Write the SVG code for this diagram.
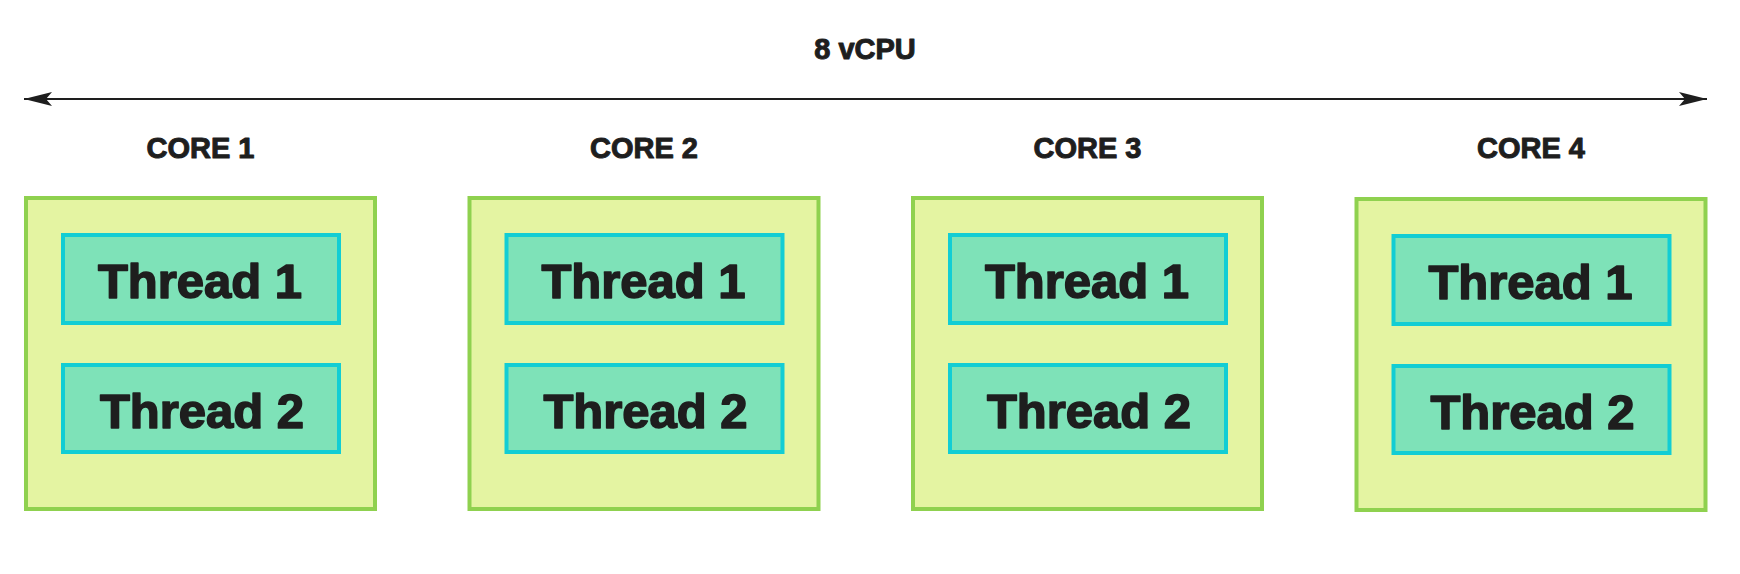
<svg xmlns="http://www.w3.org/2000/svg" width="1740" height="574" viewBox="0 0 1740 574">
<style>
.core{fill:#e4f4a2;stroke:#8fd14f;stroke-width:4}
.thr{fill:#7ee2b8;stroke:#12cdd4;stroke-width:4}
.lbl{font-family:"Liberation Sans",Arial,sans-serif;font-weight:bold;fill:#1e1e1e;text-anchor:middle;stroke:#1e1e1e;stroke-linejoin:round}
.cl{font-size:29px;stroke-width:1}
.tl{font-size:49px;stroke-width:1.6}
</style>
<defs>
<marker id="ah" viewBox="0 0 28 14" refX="28" refY="7" markerWidth="28" markerHeight="14" markerUnits="userSpaceOnUse" orient="auto-start-reverse">
<path d="M0,0 L28,7 L0,14 L6,7 Z" fill="#1e1e1e"/>
</marker>
</defs>
<rect width="1740" height="574" fill="#ffffff"/>
<text class="lbl cl" x="865" y="59">8 vCPU</text>
<g id="connectors">
<line x1="24" y1="99" x2="1707" y2="99" stroke="#1e1e1e" stroke-width="2" marker-start="url(#ah)" marker-end="url(#ah)"/>
</g>
<g id="core1">
<text class="lbl cl" x="200.5" y="158">CORE 1</text>
<rect class="core" x="26" y="198" width="349" height="311"/>
<rect class="thr" x="63" y="235" width="276" height="88"/>
<text class="lbl tl" x="200" y="298">Thread 1</text>
<rect class="thr" x="63" y="365" width="276" height="87"/>
<text class="lbl tl" x="202" y="428">Thread 2</text>
</g>
<g id="core2">
<text class="lbl cl" x="644" y="158">CORE 2</text>
<rect class="core" x="469.5" y="198" width="349" height="311"/>
<rect class="thr" x="506.5" y="235" width="276" height="88"/>
<text class="lbl tl" x="643.5" y="298">Thread 1</text>
<rect class="thr" x="506.5" y="365" width="276" height="87"/>
<text class="lbl tl" x="645.5" y="428">Thread 2</text>
</g>
<g id="core3">
<text class="lbl cl" x="1087.5" y="158">CORE 3</text>
<rect class="core" x="913" y="198" width="349" height="311"/>
<rect class="thr" x="950" y="235" width="276" height="88"/>
<text class="lbl tl" x="1087" y="298">Thread 1</text>
<rect class="thr" x="950" y="365" width="276" height="87"/>
<text class="lbl tl" x="1089" y="428">Thread 2</text>
</g>
<g id="core4">
<text class="lbl cl" x="1531" y="158">CORE 4</text>
<rect class="core" x="1356.5" y="199" width="349" height="311"/>
<rect class="thr" x="1393.5" y="236" width="276" height="88"/>
<text class="lbl tl" x="1530.5" y="299">Thread 1</text>
<rect class="thr" x="1393.5" y="366" width="276" height="87"/>
<text class="lbl tl" x="1532.5" y="429">Thread 2</text>
</g>
</svg>
